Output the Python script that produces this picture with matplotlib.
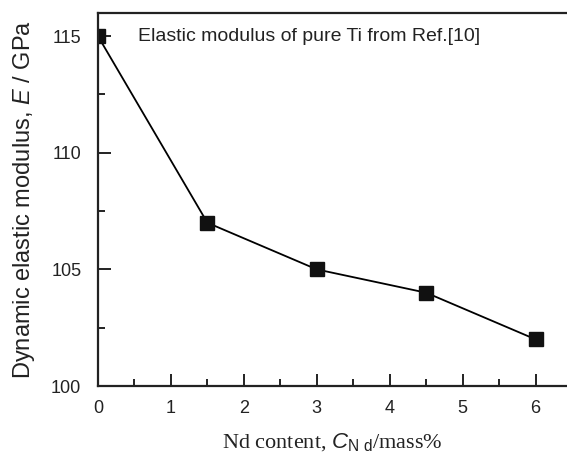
import matplotlib
matplotlib.use("Agg")
import matplotlib.pyplot as plt
from matplotlib.ticker import MultipleLocator

# Nd content (mass%) vs dynamic elastic modulus (GPa)
nd_content = [0, 1.5, 3, 4.5, 6]
modulus = [115, 107, 105, 104, 102]
x_ticks = [0, 1, 2, 3, 4, 5, 6]
y_ticks = [100, 105, 110, 115]
note = "Elastic modulus of pure Ti from Ref.[10]"

plt.rcParams['font.family'] = ['Liberation Sans', 'DejaVu Sans']
plt.rcParams['mathtext.fontset'] = 'custom'
plt.rcParams['mathtext.rm'] = 'Liberation Serif'
plt.rcParams['mathtext.it'] = 'Liberation Sans:italic'
plt.rcParams['mathtext.sf'] = 'Liberation Sans'

fig = plt.figure(figsize=(5.67, 4.59), dpi=100)
ax = fig.add_axes([0.1728, 0.159, 0.8272, 0.813])

ax.plot(nd_content, modulus, color='black', lw=1.3, marker='s', ms=9.5,
        markerfacecolor='#111111', markeredgecolor='#111111')

ax.set_xlim(0, 6.43)
ax.set_ylim(100, 116)
ax.set_xticks(x_ticks)
ax.set_yticks(y_ticks)
ax.xaxis.set_minor_locator(MultipleLocator(0.5))
ax.yaxis.set_minor_locator(MultipleLocator(2.5))

ax.spines['right'].set_visible(False)
for s in ['left', 'bottom', 'top']:
    ax.spines[s].set_linewidth(1.6)
    ax.spines[s].set_color('#222222')

ax.tick_params(axis='both', which='both', direction='in', width=1.4, color='#222222')
ax.tick_params(axis='both', which='major', length=9, labelsize=13, labelcolor='#222222')
ax.tick_params(axis='both', which='minor', length=5)
ax.tick_params(axis='x', which='major', pad=10)
ax.tick_params(axis='y', which='major', pad=12)

ax.set_ylabel("Dynamic elastic modulus, $\\mathit{E}$ / GPa", fontsize=17,
              color='#222222', labelpad=10)
ax.set_xlabel("Nd content, $\\mathit{C}_{\\mathsf{N\\ d}}$/mass%", fontsize=16,
              family='Liberation Serif', color='#222222', labelpad=11)

ax.text(0.545, 115, note, fontsize=14, color='#222222', va='center', ha='left')

fig.savefig("out.png", dpi=100)
